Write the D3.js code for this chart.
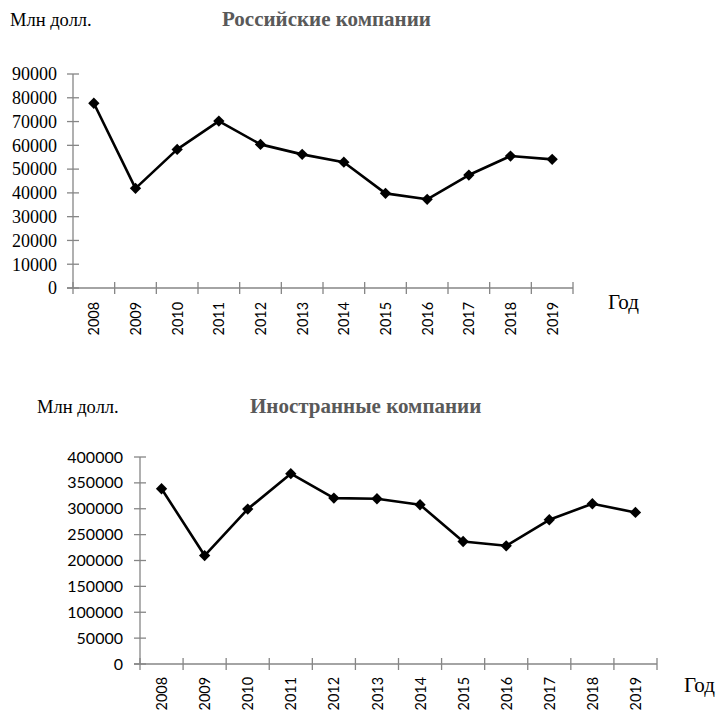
<!DOCTYPE html>
<html>
<head>
<meta charset="utf-8">
<script src="https://cdn.jsdelivr.net/npm/d3@7"></script>
<style>
  html, body { margin: 0; padding: 0; background: #fff; }
  svg { display: block; }
</style>
</head>
<body>
<svg id="chart" width="721" height="713"></svg>
<script>
// Годы и значения, млн долл.
const years = ["2008", "2009", "2010", "2011", "2012", "2013", "2014", "2015", "2016", "2017", "2018", "2019"];
const russianValues = [77700, 41900, 58300, 70200, 60400, 56200, 52900, 39800, 37300, 47500, 55500, 54100];
const foreignValues = [338700, 209600, 299300, 367700, 320600, 319300, 307700, 236700, 228400, 278700, 309700, 292900];
const russianTicks = [0, 10000, 20000, 30000, 40000, 50000, 60000, 70000, 80000, 90000];
const foreignTicks = [0, 50000, 100000, 150000, 200000, 250000, 300000, 350000, 400000];
const titles = ["Российские компании", "Иностранные компании"];
const unitLabel = "Млн долл.";
const xAxisLabel = "Год";

const svg = d3.select("#chart");
const SERIF = "'Liberation Serif', 'Times New Roman', serif";
const SANS = "Lato, 'Liberation Sans', sans-serif";
const AXIS = "#868686";

function drawPanel(p) {
  const g = svg.append("g");
  const x = d3.scaleBand().domain(years).range([p.left, p.right]);
  const y = d3.scaleLinear().domain([0, p.ticks[p.ticks.length - 1]]).range([p.bottom, p.top]);
  const cx = d => x(d) + x.bandwidth() / 2;

  // подписи сверху
  g.append("text").attr("x", p.unitX).attr("y", p.headY)
    .attr("font-family", SERIF).attr("font-size", 18.5).attr("fill", "#000")
    .text(unitLabel);
  g.append("text").attr("x", p.titleX).attr("y", p.headY)
    .attr("font-family", SERIF).attr("font-size", 21).attr("font-weight", "bold").attr("fill", "#595959")
    .text(p.title);

  // ось Y
  g.append("line").attr("x1", p.left).attr("x2", p.left).attr("y1", y(p.ticks[p.ticks.length - 1])).attr("y2", y(0))
    .attr("stroke", AXIS).attr("stroke-width", 1.3);
  g.selectAll(".yt").data(p.ticks).join("line")
    .attr("x1", p.left - 6).attr("x2", p.left + 6)
    .attr("y1", d => y(d)).attr("y2", d => y(d))
    .attr("stroke", AXIS).attr("stroke-width", 1.3);
  g.selectAll(".yl").data(p.ticks).join("text")
    .attr("x", p.left - p.labelGap).attr("y", d => y(d)).attr("dy", "0.35em")
    .attr("text-anchor", "end")
    .attr("font-family", p.yFont).attr("font-size", p.yFontSize).attr("fill", "#000")
    .text(d => d);

  // ось X
  g.append("line").attr("x1", p.left - 6).attr("x2", p.right).attr("y1", y(0)).attr("y2", y(0))
    .attr("stroke", AXIS).attr("stroke-width", 1.3);
  const edges = years.map(d => x(d)).concat([p.right]);
  g.selectAll(".xt").data(edges).join("line")
    .attr("x1", d => d).attr("x2", d => d)
    .attr("y1", y(0) - 6).attr("y2", y(0) + 6)
    .attr("stroke", AXIS).attr("stroke-width", 1.3);
  g.selectAll(".xl").data(years).join("text")
    .attr("transform", d => `translate(${cx(d)},${y(0) + p.xLabelGap}) rotate(-90) scale(0.9,1)`)
    .attr("text-anchor", "end").attr("dy", "0.35em")
    .attr("font-family", SANS).attr("font-size", 16).attr("fill", "#000")
    .text(d => d);
  g.append("text").attr("x", p.godX).attr("y", p.godY)
    .attr("font-family", SERIF).attr("font-size", 21).attr("fill", "#000")
    .text(xAxisLabel);

  // линия и маркеры-ромбы
  const line = d3.line().x((d, i) => cx(years[i])).y(d => y(d));
  g.append("path").datum(p.values).attr("d", line)
    .attr("fill", "none").attr("stroke", "#000").attr("stroke-width", 2.6).attr("stroke-linejoin", "round");
  g.selectAll(".m").data(p.values).join("path")
    .attr("transform", (d, i) => `translate(${cx(years[i])},${y(d)}) rotate(45)`)
    .attr("d", d3.symbol().type(d3.symbolSquare).size(64))
    .attr("fill", "#000");
}

drawPanel({
  title: titles[0], values: russianValues, ticks: russianTicks,
  left: 73, right: 573, top: 74, bottom: 288,
  unitX: 10, titleX: 222, headY: 26,
  yFont: SERIF, yFontSize: 18, labelGap: 16,
  xLabelGap: 14, godX: 608, godY: 309
});
drawPanel({
  title: titles[1], values: foreignValues, ticks: foreignTicks,
  left: 140, right: 657, top: 457, bottom: 664,
  unitX: 37, titleX: 250, headY: 413,
  yFont: SANS, yFontSize: 16, labelGap: 17,
  xLabelGap: 13, godX: 684, godY: 692
});
</script>
</body>
</html>
